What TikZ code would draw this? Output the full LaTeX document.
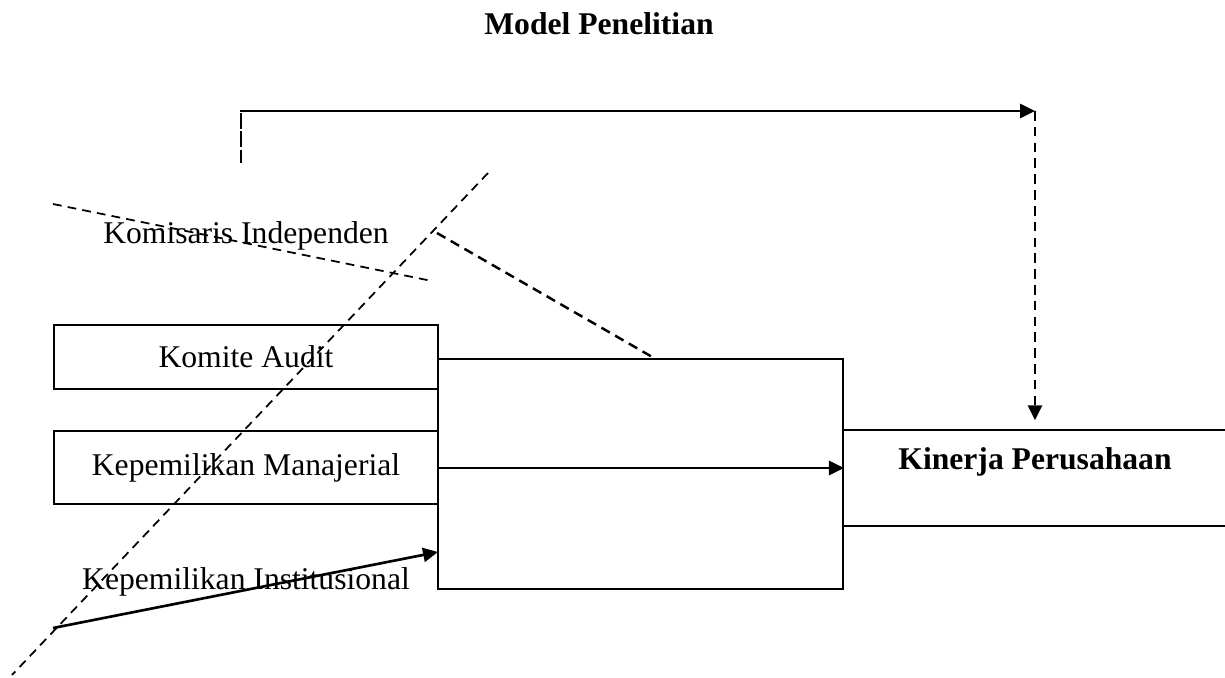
\documentclass[tikz,border=0pt]{standalone}
\usepackage{fontspec}
\setmainfont{Liberation Serif}
\usetikzlibrary{calc, arrows.meta}

\tikzset{
  varbox/.style={draw, line width=1.1pt, minimum width=7.68cm, inner sep=0pt},
  arr/.style={-{Triangle[length=8.5pt, width=8pt]}, line width=1.5pt},
  thindash/.style={line width=1pt, dash pattern=on 5pt off 3.5pt},
  thickdash/.style={line width=1.4pt, dash pattern=on 5.5pt off 3.5pt}
}

\begin{document}
\begin{tikzpicture}[x=0.02cm, y=-0.02cm,
    every node/.style={font=\fontsize{18}{22}\selectfont}]
  \useasboundingbox (0,0) rectangle (1225,677);
  \clip (0,0) rectangle (1225,677);

  % judul
  \node[font=\fontsize{18}{22}\selectfont\bfseries] (judul) at (599,24) {Model Penelitian};

  % kotak variabel
  \node[varbox, minimum height=1.28cm] (komite) at (246,357) {Komite Audit};
  \node[varbox, minimum height=1.46cm] (manajerial) at (246,467.5) {Kepemilikan Manajerial};
  \node[draw, line width=1.1pt, minimum width=8.1cm, minimum height=4.6cm] (tengah) at (640.5,474) {};
  \node[varbox, minimum height=1.92cm] (kinerja) at (1035,478) {};
  \node[font=\fontsize{18}{22}\selectfont\bfseries] (kinerjatxt) at (1035,462) {Kinerja Perusahaan};

  % label lepas
  \node (komisaris) at (246,236) {Komisaris Independen};
  \node (institusional) at (246,582) {Kepemilikan Institusional};

  % garis putus-putus lepas
  \coordinate (ka) at (53,204);
  \coordinate (kb) at (432,281);
  \coordinate (da) at (488,173);
  \coordinate (db) at (12,675);
  \coordinate (ta) at (437,233);
  \coordinate (tb) at (654,358);
  \draw[thindash] (ka) -- (kb);
  \draw[thindash] (da) -- (db);
  \draw[thickdash] (ta) -- (tb);

  % panah atas
  \coordinate (atasl) at (240,111);
  \coordinate (atasr) at (1035,111);
  \draw[line width=1.1pt, dash pattern=on 9pt off 1.5pt] (241,113) -- (241,163);
  \draw[arr] (atasl) -- (atasr);
  \draw[arr, dash pattern=on 5.5pt off 3.5pt, shorten >=5pt] (atasr) -- (kinerja.north);

  % panah tengah
  \draw[arr] ($(tengah.west)+(0,-6)$) -- ($(tengah.east)+(0,-6)$);

  % panah institusional
  \coordinate (insta) at (53,628);
  \coordinate (instb) at (438,552);
  \draw[arr] (insta) -- (instb);
\end{tikzpicture}
\end{document}
